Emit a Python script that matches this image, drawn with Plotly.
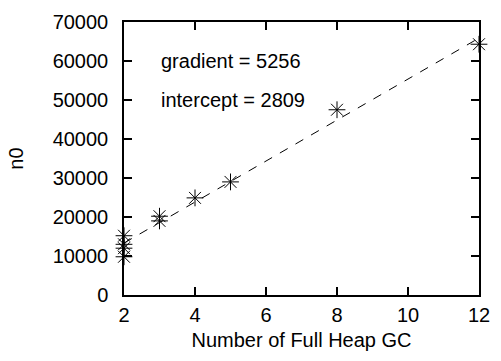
import plotly.graph_objects as go

gc_counts = [2, 2, 2, 2, 3, 3, 4, 5, 8, 12]
n0_values = [9800, 12000, 13000, 15200, 20200, 19000, 24900, 29000, 47500, 64300]
gradient = 5256
intercept = 2809
fit_x = [2, 12]
fit_y = [gradient * x + intercept for x in fit_x]

x_ticks = [2, 4, 6, 8, 10, 12]
y_ticks = [0, 10000, 20000, 30000, 40000, 50000, 60000, 70000]

fig = go.Figure()
fig.add_trace(go.Scatter(x=fit_x, y=fit_y, mode="lines",
                         line=dict(color="black", width=1, dash="dash"),
                         showlegend=False))
fig.add_trace(go.Scatter(x=gc_counts, y=n0_values, mode="markers",
                         marker=dict(symbol="asterisk-open", size=14,
                                     color="black", line=dict(color="black", width=1)),
                         showlegend=False, cliponaxis=False))

font = dict(family="Liberation Sans, Arial, sans-serif", size=20, color="black")
fig.add_annotation(x=0.099, y=0.856, xref="paper", yref="paper", text=f"gradient = {gradient}",
                   showarrow=False, xanchor="left", yanchor="middle", font=font)
fig.add_annotation(x=0.099, y=0.715, xref="paper", yref="paper", text=f"intercept = {intercept}",
                   showarrow=False, xanchor="left", yanchor="middle", font=font)

axis_common = dict(showgrid=False, zeroline=False, showline=True, linecolor="black",
                   linewidth=1.5, mirror="ticks", ticks="inside", ticklen=8,
                   tickcolor="black", tickwidth=1.5, tickfont=font)
fig.update_xaxes(range=[2, 12], tickvals=x_ticks, ticklabelstandoff=1,
                 title=dict(text="Number of Full Heap GC", font=font, standoff=8),
                 **axis_common)
fig.update_yaxes(range=[0, 70000], tickvals=y_ticks, tickformat="d", ticklabelstandoff=10,
                 title=dict(text="n0", font=font, standoff=24),
                 **axis_common)
fig.update_layout(width=501, height=361, plot_bgcolor="white", paper_bgcolor="white",
                  margin=dict(l=124, r=13, t=11, b=66), font=font)
fig.write_html("out.html")
